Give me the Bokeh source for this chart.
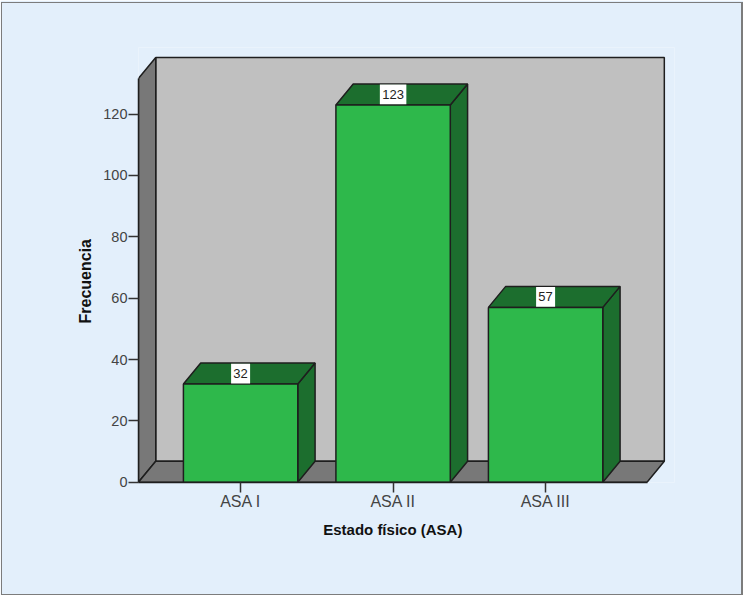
from bokeh.core.properties import value
from bokeh.embed import file_html
from bokeh.models import FixedTicker, Range1d, Title
from bokeh.plotting import figure
from bokeh.resources import INLINE

# Patient counts per physical status class
categories = ["ASA I", "ASA II", "ASA III"]
frequencies = [32, 123, 57]
y_ticks = [0, 20, 40, 60, 80, 100, 120]
x_title = "Estado físico (ASA)"
y_title = "Frecuencia"

# Layout and palette of the pseudo-3D frame
WIDTH, HEIGHT = 743, 595
FRAME_LEFT, FRAME_BOTTOM = 138, 482
BG = "#E3EFFB"
WALL = "#C0C0C0"
SIDE = "#787878"
FRONT = "#2EB84B"
SHADE = "#1C6E2E"
EDGE = "#1E1E1E"
TEXT = "#444444"

x_unit = 152.5   # pixels per category
y_unit = 3.067   # pixels per count
depth_x = 17.3 / x_unit
depth_y = 21 / y_unit
bar_w = 0.75
x0, x1 = 0.33, 3.665
y_top = 138.5

positions = list(range(1, len(categories) + 1))

p = figure(
    width=WIDTH, height=HEIGHT,
    output_backend="svg", toolbar_location=None,
    x_range=Range1d(1 + (FRAME_LEFT - 240.1) / x_unit, 1 + (674 - 240.1) / x_unit),
    y_range=Range1d(-0.1, (481.7 - 47) / y_unit),
    min_border_left=FRAME_LEFT, min_border_right=69,
    min_border_top=47, min_border_bottom=HEIGHT - FRAME_BOTTOM,
    background_fill_color=BG, border_fill_color=BG,
    outline_line_color=None,
)
p.grid.visible = False

# Back wall, left wall and floor
p.patch([x0 + depth_x, x1 + depth_x, x1 + depth_x, x0 + depth_x],
        [depth_y, depth_y, y_top, y_top],
        fill_color=WALL, line_color=EDGE, line_width=1.5)
p.patch([x0, x0 + depth_x, x0 + depth_x, x0],
        [0, depth_y, y_top, y_top - depth_y],
        fill_color=SIDE, line_color=EDGE, line_width=1.5)
p.patch([x0, x1, x1 + depth_x, x0 + depth_x],
        [0, 0, depth_y, depth_y],
        fill_color=SIDE, line_color=EDGE, line_width=1.5)

# One box per category: side, top, front, then the value tag
for pos, freq in zip(positions, frequencies):
    left, right = pos - bar_w / 2, pos + bar_w / 2
    p.patch([right, right + depth_x, right + depth_x, right],
            [0, depth_y, freq + depth_y, freq],
            fill_color=SHADE, line_color=EDGE, line_width=1.5)
    p.patch([left, right, right + depth_x, left + depth_x],
            [freq, freq, freq + depth_y, freq + depth_y],
            fill_color=SHADE, line_color=EDGE, line_width=1.5)
    p.quad(left=left, right=right, bottom=0, top=freq,
           fill_color=FRONT, line_color=EDGE, line_width=1.5)

    label = str(freq)
    p.rect(x=[pos], y=[freq + depth_y / 2],
           width=[len(label) * 7.5 + 4], width_units="screen",
           height=[depth_y - 0.4],
           fill_color="white", line_color=None)
    p.text(x=[pos], y=[freq + depth_y / 2], text=[label],
           text_align="center", text_baseline="middle",
           text_color="#222222", text_font=value("Liberation Sans"),
           text_font_size="13px")

# Axes
p.xaxis.bounds = (x0, x1)
p.xaxis.ticker = FixedTicker(ticks=positions)
p.xaxis.major_label_overrides = dict(zip(positions, categories))
p.yaxis.bounds = (0, y_top - depth_y)
p.yaxis.ticker = FixedTicker(ticks=y_ticks)

for axis, size, standoff in ((p.xaxis[0], "16px", 0), (p.yaxis[0], "14.5px", 1)):
    axis.axis_line_color = EDGE
    axis.axis_line_width = 1.5
    axis.major_tick_line_color = "#333333"
    axis.major_tick_line_width = 1.5
    axis.major_tick_in = 0
    axis.major_tick_out = 10
    axis.minor_tick_line_color = None
    axis.major_label_text_color = TEXT
    axis.major_label_text_font = "Liberation Sans"
    axis.major_label_text_font_size = size
    axis.major_label_standoff = standoff

# Axis titles sit under the floor and beside the left wall, so they are
# offset along the frame edge instead of being centred on the whole frame.
p.add_layout(Title(
    text=x_title, align="left", offset=322.7 - FRAME_LEFT, standoff=12,
    text_color="#111111", text_font="Liberation Sans",
    text_font_style="bold", text_font_size="15px",
), "below")
p.add_layout(Title(
    text=y_title, align="left", offset=FRAME_BOTTOM - 323, standoff=13,
    text_color="#111111", text_font="Liberation Sans",
    text_font_style="bold", text_font_size="16px",
), "left")

# Thin grey frame around the whole page
page_frame = """<style>
body::after {
  content: ""; position: fixed; left: 1px; top: 2px; right: 0; bottom: 0;
  border-style: solid; border-color: #7C7C7C;
  border-width: 1px 2px 1px 1px; pointer-events: none; z-index: 10;
}
</style></head>"""
html = file_html(p, INLINE).replace("</head>", page_frame, 1)
open("out.html", "w").write(html)
